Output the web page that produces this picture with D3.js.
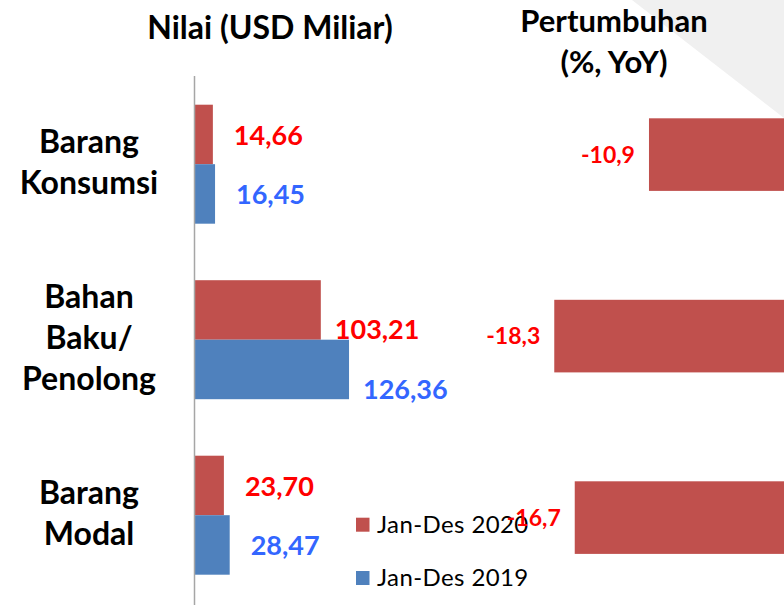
<!DOCTYPE html>
<html lang="id">
<head>
<meta charset="utf-8">
<title>Nilai dan Pertumbuhan</title>
<script src="https://cdn.jsdelivr.net/npm/d3@7"></script>
<style>
  html, body { margin: 0; padding: 0; background: #fff; }
  svg { display: block; font-family: Lato, "Open Sans", sans-serif; }
</style>
</head>
<body>
<script>
// data
var categories = ["Barang Konsumsi", "Bahan Baku/ Penolong", "Barang Modal"];
var categoryLines = [["Barang", "Konsumsi"], ["Bahan", "Baku/", "Penolong"], ["Barang", "Modal"]];
var series = ["Jan-Des 2020", "Jan-Des 2019"];
var values2020 = [14.66, 103.21, 23.70];
var values2019 = [16.45, 126.36, 28.47];
var growth = [-10.9, -18.3, -16.7];

var w = 784, h = 605;
var red = "#c0504d", blue = "#4f81bd";
var fmt = d3.formatLocale({decimal: ",", thousands: ".", grouping: [3], currency: ["", ""], minus: "-"});
var f2 = fmt.format(".2f"), f1 = fmt.format(".1f");

var svg = d3.select("body").append("svg")
    .attr("width", w)
    .attr("height", h);

// light grey corner
svg.append("polygon")
    .attr("points", "632,0 784,0 784,118")
    .attr("fill", "#f0f0f0");

// titles
svg.append("text")
    .attr("x", 270).attr("y", 39)
    .attr("text-anchor", "middle")
    .attr("font-size", "32px").attr("font-weight", "bold")
    .text("Nilai (USD Miliar)");
svg.append("text")
    .attr("x", 614).attr("y", 32)
    .attr("text-anchor", "middle")
    .attr("font-size", "31px").attr("font-weight", "bold")
    .text("Pertumbuhan");
svg.append("text")
    .attr("x", 614).attr("y", 73)
    .attr("text-anchor", "middle")
    .attr("font-size", "31px").attr("font-weight", "bold")
    .text("(%, YoY)");

// left panel: values
var xLeft = d3.scaleLinear().domain([0, 140]).range([195, 195 + 140 * 1.219]);
var yLeft = d3.scaleBand().domain(categories).range([104.7, 574.7]).paddingInner(0.322);
var ySub = d3.scaleBand().domain(series).range([0, yLeft.bandwidth()]);

var rows = categories.map(function(c, i) {
  return {cat: c, i: i, vals: [values2020[i], values2019[i]]};
});

// Bahan Baku labels were moved by hand in the original
var nudge = {"Bahan Baku/ Penolong": [-7, 19]};

var groups = svg.selectAll("g.grp")
    .data(rows)
    .enter()
    .append("g")
    .attr("class", "grp")
    .attr("transform", function(d) { return "translate(0," + yLeft(d.cat) + ")"; });

groups.selectAll("rect")
    .data(function(d) { return d.vals.map(function(v, j) { return {v: v, s: series[j], cat: d.cat}; }); })
    .enter()
    .append("rect")
    .attr("x", xLeft(0))
    .attr("y", function(d) { return ySub(d.s); })
    .attr("width", function(d) { return xLeft(d.v) - xLeft(0); })
    .attr("height", ySub.bandwidth())
    .attr("fill", function(d, j) { return j === 0 ? red : blue; });

groups.selectAll("text.val")
    .data(function(d) { return d.vals.map(function(v, j) { return {v: v, s: series[j], cat: d.cat}; }); })
    .enter()
    .append("text")
    .attr("class", "val")
    .attr("x", function(d) { var n = nudge[d.cat] || [0, 0]; return xLeft(d.v) + 21 + n[0]; })
    .attr("y", function(d) { var n = nudge[d.cat] || [0, 0]; return ySub(d.s) + ySub.bandwidth() / 2 + 10.5 + n[1]; })
    .attr("font-size", "27px")
    .attr("font-weight", "bold")
    .attr("fill", function(d, j) { return j === 0 ? "#ff0000" : "#3366ff"; })
    .text(function(d) { return f2(d.v); });

// category labels
svg.selectAll("text.cat")
    .data(rows)
    .enter()
    .append("text")
    .attr("class", "cat")
    .attr("text-anchor", "middle")
    .attr("font-size", "32px")
    .attr("font-weight", "bold")
    .attr("fill", "#000")
    .each(function(d) {
      var lines = categoryLines[d.i];
      var cy = yLeft(d.cat) + yLeft.bandwidth() / 2;
      var first = cy - (lines.length - 1) * 41 / 2 + 9;
      var t = d3.select(this);
      lines.forEach(function(l, k) {
        t.append("tspan").attr("x", 89).attr("y", first + k * 41).text(l);
      });
    });

// axis line
svg.append("line")
    .attr("x1", 194.5).attr("x2", 194.5)
    .attr("y1", 76).attr("y2", h)
    .attr("stroke", "#a6a6a6")
    .attr("stroke-width", 1.5);

// legend
var legend = svg.selectAll("g.leg")
    .data(series)
    .enter()
    .append("g")
    .attr("class", "leg")
    .attr("transform", function(d, i) { return "translate(356," + (517.7 + i * 53.3) + ")"; });
legend.append("rect")
    .attr("width", 13.5).attr("height", 14)
    .attr("fill", function(d, i) { return i === 0 ? red : blue; });
legend.append("text")
    .attr("x", 21).attr("y", 15)
    .attr("font-size", "24px")
    .attr("letter-spacing", "0.4px")
    .attr("fill", "#000")
    .text(function(d) { return d; });

// right panel: growth
var xRight = d3.scaleLinear().domain([-20, 0]).range([788.5 - 20 * 12.8, 788.5]);
var yRight = d3.scaleBand().domain(categories).range([118.3, 553.9]).paddingInner(0.6);

svg.selectAll("rect.gr")
    .data(growth)
    .enter()
    .append("rect")
    .attr("class", "gr")
    .attr("x", function(d) { return xRight(d); })
    .attr("y", function(d, i) { return yRight(categories[i]); })
    .attr("width", function(d) { return xRight(0) - xRight(d); })
    .attr("height", yRight.bandwidth())
    .attr("fill", red);

svg.selectAll("text.gr")
    .data(growth)
    .enter()
    .append("text")
    .attr("class", "gr")
    .attr("x", function(d) { return xRight(d) - 14; })
    .attr("y", function(d, i) { return yRight(categories[i]) + yRight.bandwidth() / 2 + 8.3; })
    .attr("text-anchor", "end")
    .attr("font-size", "23px")
    .attr("font-weight", "bold")
    .attr("fill", "#ff0000")
    .text(function(d) { return f1(d); });
</script>
</body>
</html>
